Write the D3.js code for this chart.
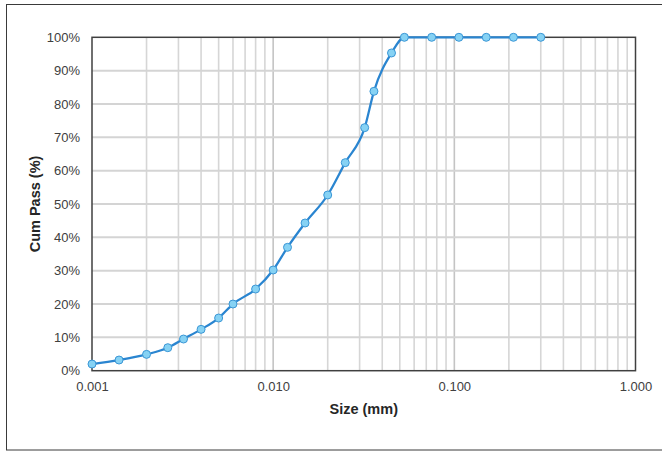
<!DOCTYPE html>
<html><head><meta charset="utf-8">
<script src="https://cdn.jsdelivr.net/npm/d3@7"></script>
<style>body{margin:0;background:#fff}svg{display:block}text{font-family:"Liberation Sans",Arial,sans-serif}</style>
</head><body><svg id="c" width="662" height="451"></svg>
<script>
const sizes = [0.001,0.00141,0.002,0.00262,0.0032,0.004,0.005,0.006,0.008,0.010,0.012,0.015,0.020,0.025,0.032,0.036,0.045,0.053,0.075,0.106,0.150,0.212,0.300];
const cumPass = [2.0,3.2,4.9,6.9,9.5,12.4,15.8,20.0,24.5,30.2,37.0,44.3,52.7,62.4,72.9,83.8,95.3,100,100,100,100,100,100];
const xTickValues = [0.001,0.01,0.1,1];
const xTickLabels = ["0.001","0.010","0.100","1.000"];
const yTickValues = [0,10,20,30,40,50,60,70,80,90,100];

const svg = d3.select("#c");
const L=92,R=635.5,T=37.3,B=370.7;
const x = d3.scaleLog().domain([0.001,1]).range([L,R]);
const y = d3.scaleLinear().domain([0,100]).range([B,T]);

// outer border
svg.append("rect").attr("x",6.5).attr("y",4.5).attr("width",670).attr("height",445.5)
  .attr("fill","none").attr("stroke","#3a3a3a").attr("stroke-width",1);

// minor vertical gridlines
const minor=[];
for(let d=0.001; d<1; d*=10){ for(let k=2;k<=9;k++) minor.push(d*k); }
svg.append("g").selectAll("line").data(minor).join("line")
  .attr("x1",d=>x(d)).attr("x2",d=>x(d)).attr("y1",T).attr("y2",B)
  .attr("stroke","#d6d6d6").attr("stroke-width",1.6);
svg.append("g").selectAll("line").data(xTickValues.slice(1,3)).join("line")
  .attr("x1",d=>x(d)).attr("x2",d=>x(d)).attr("y1",T).attr("y2",B)
  .attr("stroke","#c4c4c4").attr("stroke-width",1.6);
// horizontal gridlines
svg.append("g").selectAll("line").data(yTickValues.slice(1,10)).join("line")
  .attr("x1",L).attr("x2",R).attr("y1",d=>y(d)).attr("y2",d=>y(d))
  .attr("stroke","#d4d4d4").attr("stroke-width",2);

// frame
svg.append("rect").attr("x",L).attr("y",T).attr("width",R-L).attr("height",B-T)
  .attr("fill","none").attr("stroke","#404040").attr("stroke-width",1.5);

// axes
const xa = svg.append("g").attr("transform",`translate(0,${B})`)
  .call(d3.axisBottom(x).tickValues(xTickValues).tickFormat((d,i)=>xTickLabels[i]).tickSize(0).tickPadding(11));
xa.select(".domain").remove();
xa.selectAll("text").attr("font-size",13).attr("fill","#404040").style("font-family","Liberation Sans, Arial, sans-serif");
const ya = svg.append("g").attr("transform",`translate(${L},0)`)
  .call(d3.axisLeft(y).tickValues(yTickValues).tickFormat(d=>d+"%").tickSize(0).tickPadding(12));
ya.select(".domain").remove();
ya.selectAll("text").attr("font-size",13).attr("fill","#404040").style("font-family","Liberation Sans, Arial, sans-serif");

// titles
svg.append("text").attr("x",(L+R)/2).attr("y",414).attr("text-anchor","middle")
  .attr("font-size",14.5).attr("font-weight","bold").attr("fill","#262626").text("Size (mm)");
svg.append("text").attr("transform",`translate(39.5,${(T+B)/2}) rotate(-90)`).attr("text-anchor","middle")
  .attr("font-size",14.5).attr("font-weight","bold").attr("fill","#262626").text("Cum Pass (%)");

// line + markers
const pts = sizes.map((s,i)=>[s,cumPass[i]]);
svg.append("path").datum(pts).attr("fill","none").attr("stroke","#2a85d0").attr("stroke-width",2.25)
  .attr("d",d3.line().curve(d3.curveMonotoneX).x(d=>x(d[0])).y(d=>y(d[1])));
svg.append("g").selectAll("circle").data(pts).join("circle")
  .attr("cx",d=>x(d[0])).attr("cy",d=>y(d[1])).attr("r",4)
  .attr("fill","#86d2f4").attr("stroke","#3b97d6").attr("stroke-width",1);
</script></body></html>
